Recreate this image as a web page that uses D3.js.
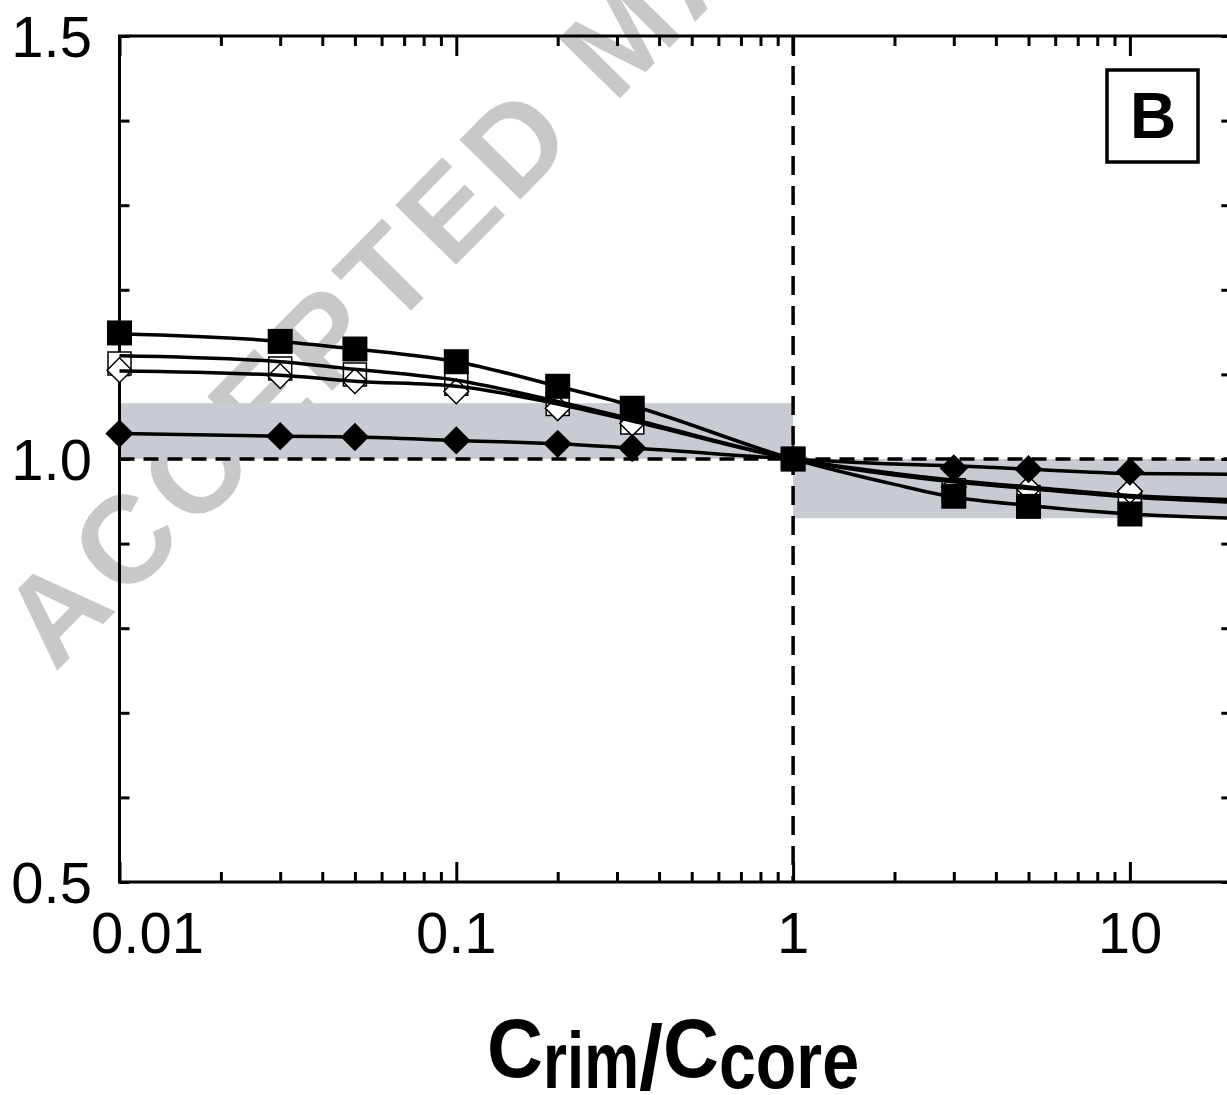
<!DOCTYPE html>
<html lang="en">
  <head>
    <meta charset="utf-8">
    <title>Crim/Ccore</title>
    <style>
    body { margin: 0; background: #fff; }
    text { font-family: "Liberation Sans", Arial, Helvetica, sans-serif; }
    </style>
    <script type="text/javascript" src="https://cdn.jsdelivr.net/npm/d3@7"></script>
  </head>
  <body>
    <script type="text/javascript">

      // measured points (x = Crim/Ccore)
      var xPoints = [0.01, 0.03, 0.05, 0.1, 0.2, 0.333, 1, 3, 5, 10];
      var filledSquares  = [1.149, 1.139, 1.130, 1.115, 1.086, 1.060, 1.0, 0.956, 0.944, 0.935];
      var openSquares    = [1.113, 1.107, 1.100, 1.089, 1.065, 1.043, 1.0, 0.963, 0.955, 0.948];
      var openDiamonds   = [1.105, 1.098, 1.092, 1.080, 1.060, 1.042, 1.0, 0.967, 0.965, 0.962];
      var filledDiamonds = [1.030, 1.027, 1.026, 1.022, 1.018, 1.013, 1.0, 0.989, 0.988, 0.985];

      // fitted curves
      var curveX = [0.01, 0.03, 0.05, 0.1, 0.2, 0.333, 1, 2, 3, 5, 10, 20];
      var curveFilledSquare  = [1.148, 1.139, 1.130, 1.115, 1.086, 1.063, 1.0, 0.970, 0.955, 0.945, 0.935, 0.930];
      var curveOpenSquare    = [1.122, 1.115, 1.106, 1.093, 1.068, 1.047, 1.0, 0.981, 0.973, 0.965, 0.955, 0.949];
      var curveOpenDiamond   = [1.104, 1.099, 1.092, 1.086, 1.065, 1.045, 1.0, 0.983, 0.975, 0.967, 0.957, 0.952];
      var curveFilledDiamond = [1.030, 1.027, 1.026, 1.022, 1.018, 1.013, 1.0, 0.994, 0.992, 0.988, 0.983, 0.982];

      // shaded ranges [x0, x1, y0, y1]
      var bandLow  = [0.01, 1, 1.0, 1.066];
      var bandHigh = [1, 20, 0.930, 1.0];

      var xMajor = [0.01, 0.1, 1, 10];
      var xTickLabels = ["0.01", "0.1", "1", "10"];
      var yTicks = [0.5, 0.6, 0.7, 0.8, 0.9, 1.0, 1.1, 1.2, 1.3, 1.4, 1.5];
      var yTickLabels = ["0.5", "1.0", "1.5"];

      var width = 1227, height = 1095;
      var svg = d3.select("body").append("svg")
          .attr("width", width)
          .attr("height", height);

      var x = d3.scaleLog().domain([0.01, 20]).range([119.5, 119.5 + 336.8 * Math.log10(2000)]);
      var y = d3.scaleLinear().domain([0.5, 1.5]).range([882, 36]);
      var x0 = x.range()[0], x1 = x.range()[1];
      var y0 = y.range()[0], y1 = y.range()[1];

      // watermark
      svg.append("text")
          .attr("transform", "translate(55,673) rotate(-45.5)")
          .attr("font-size", 124)
          .attr("font-weight", "bold")
          .attr("letter-spacing", 9)
          .attr("fill", "#c7c8ca")
          .text("ACCEPTED MANUSCRIPT");

      // shaded bands
      svg.selectAll("rect.band")
        .data([bandLow, bandHigh])
        .enter().append("rect")
          .attr("class", "band")
          .attr("x", d => x(d[0]))
          .attr("width", d => x(d[1]) - x(d[0]))
          .attr("y", d => y(d[3]))
          .attr("height", d => y(d[2]) - y(d[3]))
          .attr("fill", "#c8ccd2");

      // reference lines at 1
      svg.append("line")
          .attr("x1", x0).attr("x2", x1)
          .attr("y1", y(1)).attr("y2", y(1))
          .attr("stroke", "#000").attr("stroke-width", 3.5)
          .attr("stroke-dasharray", "15,9");
      svg.append("line")
          .attr("x1", x(1)).attr("x2", x(1))
          .attr("y1", y1).attr("y2", y0)
          .attr("stroke", "#000").attr("stroke-width", 3.5)
          .attr("stroke-dasharray", "19,11");

      // minor ticks
      var xMinor = [];
      [0.01, 0.1, 1, 10].forEach(function(d) {
        for (var k = 2; k <= 9; k++) {
          if (d * k <= 20) xMinor.push(d * k);
        }
      });

      function tickAxis(axis, pos, vals, size) {
        var g = svg.append("g")
            .attr("transform", pos)
            .call(axis.tickValues(vals).tickSize(size).tickFormat(""));
        g.select(".domain").remove();
        g.selectAll("line").attr("stroke", "#000").attr("stroke-width", 3);
      }
      tickAxis(d3.axisBottom(x), "translate(0," + y0 + ")", xMinor, -10);
      tickAxis(d3.axisBottom(x), "translate(0," + y0 + ")", xMajor, -20);
      tickAxis(d3.axisTop(x), "translate(0," + y1 + ")", xMinor, -10);
      tickAxis(d3.axisTop(x), "translate(0," + y1 + ")", xMajor, -20);
      tickAxis(d3.axisLeft(y), "translate(" + x0 + ",0)", yTicks, -10);
      tickAxis(d3.axisRight(y), "translate(" + x1 + ",0)", yTicks, -10);

      // frame
      svg.append("rect")
          .attr("x", x0).attr("y", y1)
          .attr("width", x1 - x0).attr("height", y0 - y1)
          .attr("fill", "none").attr("stroke", "#000").attr("stroke-width", 3);

      // tick labels
      svg.selectAll("text.xlab")
        .data(xMajor)
        .enter().append("text")
          .attr("class", "xlab")
          .attr("x", (d, i) => x(d) + (i === 0 ? 28 : 0))
          .attr("y", 953)
          .attr("text-anchor", "middle")
          .attr("font-size", 58)
          .text((d, i) => xTickLabels[i]);

      svg.selectAll("text.ylab")
        .data(yTickLabels)
        .enter().append("text")
          .attr("class", "ylab")
          .attr("x", 92)
          .attr("y", d => y(+d))
          .attr("dy", "0.36em")
          .attr("text-anchor", "end")
          .attr("font-size", 58)
          .text(d => d);

      // series
      function pts(vals) { return xPoints.map((d, i) => [d, vals[i]]); }
      function cpts(vals) { return curveX.map((d, i) => [d, vals[i]]); }

      var line = d3.line()
          .x(d => x(d[0]))
          .y(d => y(d[1]))
          .curve(d3.curveMonotoneX);

      var sq = d3.symbol().type(d3.symbolSquare);

      function markers(vals, size, rot, fill, strokeW) {
        svg.append("g").selectAll("path")
          .data(pts(vals))
          .enter().append("path")
            .attr("d", sq.size(size)())
            .attr("transform", d => "translate(" + x(d[0]) + "," + y(d[1]) + ") rotate(" + rot + ")")
            .attr("fill", fill)
            .attr("stroke", "#000")
            .attr("stroke-width", strokeW);
      }

      markers(openSquares, 23 * 23, 0, "#fff", 1.5);
      markers(openDiamonds, 17.5 * 17.5, 45, "#fff", 1.5);

      [curveFilledSquare, curveOpenSquare, curveOpenDiamond, curveFilledDiamond].forEach(function(c) {
        svg.append("path")
            .datum(cpts(c))
            .attr("d", line)
            .attr("fill", "none")
            .attr("stroke", "#000")
            .attr("stroke-width", 3.5);
      });

      markers(filledSquares, 25 * 25, 0, "#000", 0);
      markers(filledDiamonds, 20 * 20, 45, "#000", 0);

      // panel letter
      svg.append("rect")
          .attr("x", 1107).attr("y", 70)
          .attr("width", 91).attr("height", 92)
          .attr("fill", "#fff").attr("stroke", "#000").attr("stroke-width", 3.5);
      svg.append("text")
          .attr("x", 1153).attr("y", 138)
          .attr("text-anchor", "middle")
          .attr("font-size", 64)
          .attr("font-weight", "bold")
          .text("B");

      // axis title: each piece fitted to its width in the figure
      var titleParts = [
        { t: "C",    size: 84, base: 1077, w: 56 },
        { t: "rim",  size: 80, base: 1088, w: 96 },
        { t: "/",    size: 90, base: 1089, w: 24 },
        { t: "C",    size: 84, base: 1077, w: 56 },
        { t: "core", size: 80, base: 1088, w: 140 }
      ];
      var tx = 487;
      titleParts.forEach(function(p) {
        var t = svg.append("text")
            .attr("font-size", p.size)
            .attr("font-weight", "bold")
            .text(p.t);
        var len = t.node().getComputedTextLength();
        var s = Math.min(1, p.w / len);
        t.attr("transform", "translate(" + tx + "," + p.base + ") scale(" + s + ",1)");
        tx += p.w;
      });

    </script>
  </body>
</html>
